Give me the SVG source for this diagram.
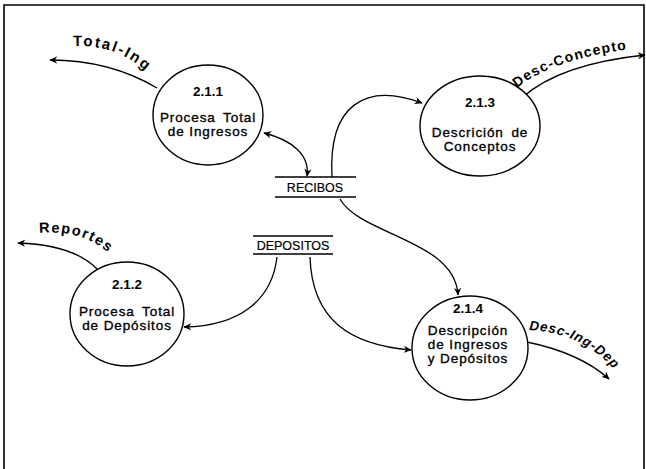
<svg xmlns="http://www.w3.org/2000/svg" width="646" height="469" viewBox="0 0 646 469">
<defs>
<marker id="ah" viewBox="0 0 10 10" refX="9" refY="5" markerWidth="8" markerHeight="8" orient="auto-start-reverse" markerUnits="userSpaceOnUse">
<path d="M0,0.5 L10,5 L0,9.5 L3,5 Z" fill="#000"/>
</marker>
<path id="pTot" d="M73,46 Q120,44 152,77"/>
<path id="pDC" d="M517,88 Q556,57 640,48"/>
<path id="pRep" d="M39,233 Q85,229 113,257"/>
<path id="pDID" d="M529,330 Q585,333 618,374"/>
</defs>
<style>
.frame{fill:none;stroke:#000;stroke-width:1.6}
.bub{fill:#fff;stroke:#000;stroke-width:1.4}
.t{font-family:"Liberation Sans",Arial,sans-serif;font-size:13.5px;letter-spacing:0.9px;fill:#000;stroke:#000;stroke-width:0.35;text-anchor:middle}
.num{font-family:"Liberation Sans",Arial,sans-serif;font-size:13.5px;font-weight:bold;fill:#000;text-anchor:middle}
.st{fill:none;stroke:#000;stroke-width:1.4}
.sl{font-family:"Liberation Sans",Arial,sans-serif;font-size:12.5px;fill:#000;stroke:#000;stroke-width:0.2;text-anchor:middle}
.c{fill:none;stroke:#000;stroke-width:1.3}
.lab{font-family:"Liberation Sans",Arial,sans-serif;font-weight:bold;fill:#000}
</style>
<rect width="646" height="469" fill="#fff"/>
<path class="frame" d="M4,475 L4,5 L644,5 L644,475"/>
<g id="connectors">
<path class="c" d="M157,88 Q110,60 50,60" marker-end="url(#ah)"/>
<path class="c" d="M264,133 C292,140 310,155 307,176" marker-start="url(#ah)" marker-end="url(#ah)"/>
<path class="c" d="M332,177 C328,105 365,82 422,103" marker-end="url(#ah)"/>
<path class="c" d="M523,97 Q560,64 645,55" marker-end="url(#ah)"/>
<path class="c" d="M340,199 C360,235 455,240 458,295" marker-end="url(#ah)"/>
<path class="c" d="M277,257 C272,300 240,326 184,327" marker-end="url(#ah)"/>
<path class="c" d="M310,257 C312,320 350,345 411,350" marker-end="url(#ah)"/>
<path class="c" d="M98,270 Q75,245 18,243" marker-end="url(#ah)"/>
<path class="c" d="M527,342 Q580,353 609,379" marker-end="url(#ah)"/>
<text class="lab" font-size="15" letter-spacing="2"><textPath href="#pTot">Total-Ing</textPath></text>
<text class="lab" font-size="14" letter-spacing="1.2"><textPath href="#pDC">Desc-Concepto</textPath></text>
<text class="lab" font-size="14.5" letter-spacing="1.5"><textPath href="#pRep">Reportes</textPath></text>
<text class="lab" font-size="13.5" letter-spacing="0.8" font-style="italic"><textPath href="#pDID">Desc-Ing-Dep</textPath></text>
</g>
<g id="n211">
<ellipse class="bub" cx="208" cy="115" rx="55" ry="50"/>
<text class="num" x="208" y="96">2.1.1</text>
<text class="t" x="208" y="122" word-spacing="3">Procesa Total</text>
<text class="t" x="208" y="136">de Ingresos</text>
</g>
<g id="n213">
<ellipse class="bub" cx="480" cy="126" rx="60" ry="50"/>
<text class="num" x="480" y="107">2.1.3</text>
<text class="t" x="480" y="137" word-spacing="3">Descrición de</text>
<text class="t" x="480" y="151">Conceptos</text>
</g>
<g id="n212">
<ellipse class="bub" cx="127" cy="314" rx="57" ry="52"/>
<text class="num" x="127" y="289">2.1.2</text>
<text class="t" x="127" y="316" word-spacing="3">Procesa Total</text>
<text class="t" x="127" y="330">de Depósitos</text>
</g>
<g id="n214">
<ellipse class="bub" cx="470" cy="348" rx="58" ry="52"/>
<text class="num" x="468" y="313">2.1.4</text>
<text class="t" x="468" y="335">Descripción</text>
<text class="t" x="468" y="349">de Ingresos</text>
<text class="t" x="468" y="363">y Depósitos</text>
</g>
<g id="recibos">
<path class="st" d="M275,177 H356 M275,197 H356"/>
<text class="sl" x="315" y="192">RECIBOS</text>
</g>
<g id="depositos">
<path class="st" d="M253,236 H333 M253,254 H333"/>
<text class="sl" x="293" y="250">DEPOSITOS</text>
</g>
</svg>
